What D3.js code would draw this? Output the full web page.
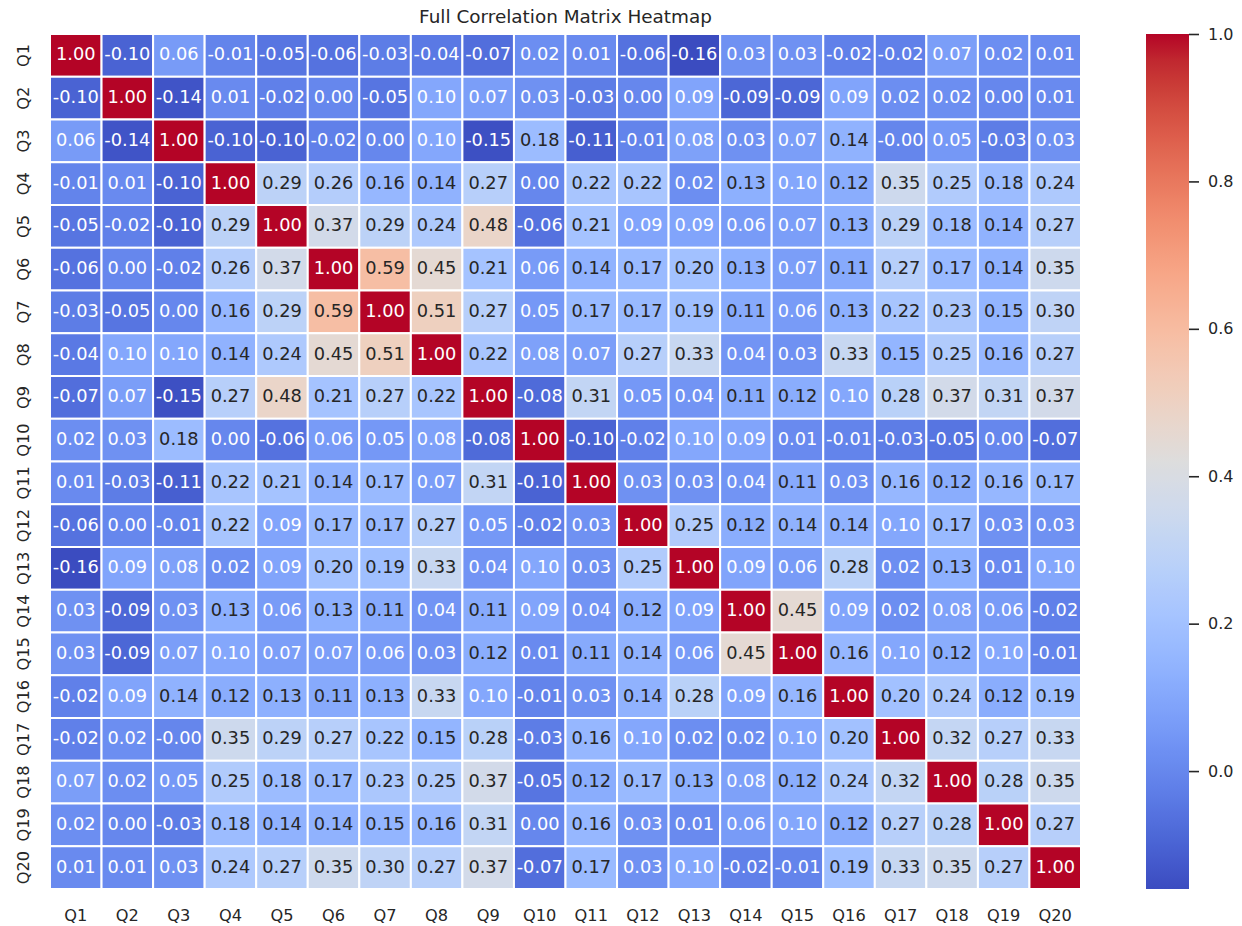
<!DOCTYPE html>
<html>
<head>
<meta charset="utf-8">
<script src="https://cdn.jsdelivr.net/npm/d3@7"></script>
<style>
  body { margin: 0; background: #ffffff; }
  svg text { font-family: "DejaVu Sans", "Liberation Sans", sans-serif; }
</style>
</head>
<body>
<svg id="chart" width="1242" height="926"></svg>
<script>
// Questionnaire items shown on both axes
const questions = ["Q1","Q2","Q3","Q4","Q5","Q6","Q7","Q8","Q9","Q10",
                   "Q11","Q12","Q13","Q14","Q15","Q16","Q17","Q18","Q19","Q20"];

// Pairwise correlation matrix (row i, column j)
const correlations = [
  [ 1.00,-0.10, 0.06,-0.01,-0.05,-0.06,-0.03,-0.04,-0.07, 0.02, 0.01,-0.06,-0.16, 0.03, 0.03,-0.02,-0.02, 0.07, 0.02, 0.01],
  [-0.10, 1.00,-0.14, 0.01,-0.02, 0.00,-0.05, 0.10, 0.07, 0.03,-0.03, 0.00, 0.09,-0.09,-0.09, 0.09, 0.02, 0.02, 0.00, 0.01],
  [ 0.06,-0.14, 1.00,-0.10,-0.10,-0.02, 0.00, 0.10,-0.15, 0.18,-0.11,-0.01, 0.08, 0.03, 0.07, 0.14,-0.004,0.05,-0.03, 0.03],
  [-0.01, 0.01,-0.10, 1.00, 0.29, 0.26, 0.16, 0.14, 0.27, 0.00, 0.22, 0.22, 0.02, 0.13, 0.10, 0.12, 0.35, 0.25, 0.18, 0.24],
  [-0.05,-0.02,-0.10, 0.29, 1.00, 0.37, 0.29, 0.24, 0.48,-0.06, 0.21, 0.09, 0.09, 0.06, 0.07, 0.13, 0.29, 0.18, 0.14, 0.27],
  [-0.06, 0.00,-0.02, 0.26, 0.37, 1.00, 0.59, 0.45, 0.21, 0.06, 0.14, 0.17, 0.20, 0.13, 0.07, 0.11, 0.27, 0.17, 0.14, 0.35],
  [-0.03,-0.05, 0.00, 0.16, 0.29, 0.59, 1.00, 0.51, 0.27, 0.05, 0.17, 0.17, 0.19, 0.11, 0.06, 0.13, 0.22, 0.23, 0.15, 0.30],
  [-0.04, 0.10, 0.10, 0.14, 0.24, 0.45, 0.51, 1.00, 0.22, 0.08, 0.07, 0.27, 0.33, 0.04, 0.03, 0.33, 0.15, 0.25, 0.16, 0.27],
  [-0.07, 0.07,-0.15, 0.27, 0.48, 0.21, 0.27, 0.22, 1.00,-0.08, 0.31, 0.05, 0.04, 0.11, 0.12, 0.10, 0.28, 0.37, 0.31, 0.37],
  [ 0.02, 0.03, 0.18, 0.00,-0.06, 0.06, 0.05, 0.08,-0.08, 1.00,-0.10,-0.02, 0.10, 0.09, 0.01,-0.01,-0.03,-0.05, 0.00,-0.07],
  [ 0.01,-0.03,-0.11, 0.22, 0.21, 0.14, 0.17, 0.07, 0.31,-0.10, 1.00, 0.03, 0.03, 0.04, 0.11, 0.03, 0.16, 0.12, 0.16, 0.17],
  [-0.06, 0.00,-0.01, 0.22, 0.09, 0.17, 0.17, 0.27, 0.05,-0.02, 0.03, 1.00, 0.25, 0.12, 0.14, 0.14, 0.10, 0.17, 0.03, 0.03],
  [-0.16, 0.09, 0.08, 0.02, 0.09, 0.20, 0.19, 0.33, 0.04, 0.10, 0.03, 0.25, 1.00, 0.09, 0.06, 0.28, 0.02, 0.13, 0.01, 0.10],
  [ 0.03,-0.09, 0.03, 0.13, 0.06, 0.13, 0.11, 0.04, 0.11, 0.09, 0.04, 0.12, 0.09, 1.00, 0.45, 0.09, 0.02, 0.08, 0.06,-0.02],
  [ 0.03,-0.09, 0.07, 0.10, 0.07, 0.07, 0.06, 0.03, 0.12, 0.01, 0.11, 0.14, 0.06, 0.45, 1.00, 0.16, 0.10, 0.12, 0.10,-0.01],
  [-0.02, 0.09, 0.14, 0.12, 0.13, 0.11, 0.13, 0.33, 0.10,-0.01, 0.03, 0.14, 0.28, 0.09, 0.16, 1.00, 0.20, 0.24, 0.12, 0.19],
  [-0.02, 0.02,-0.004,0.35, 0.29, 0.27, 0.22, 0.15, 0.28,-0.03, 0.16, 0.10, 0.02, 0.02, 0.10, 0.20, 1.00, 0.32, 0.27, 0.33],
  [ 0.07, 0.02, 0.05, 0.25, 0.18, 0.17, 0.23, 0.25, 0.37,-0.05, 0.12, 0.17, 0.13, 0.08, 0.12, 0.24, 0.32, 1.00, 0.28, 0.35],
  [ 0.02, 0.00,-0.03, 0.18, 0.14, 0.14, 0.15, 0.16, 0.31, 0.00, 0.16, 0.03, 0.01, 0.06, 0.10, 0.12, 0.27, 0.28, 1.00, 0.27],
  [ 0.01, 0.01, 0.03, 0.24, 0.27, 0.35, 0.30, 0.27, 0.37,-0.07, 0.17, 0.03, 0.10,-0.02,-0.01, 0.19, 0.33, 0.35, 0.27, 1.00]
];

// Colorbar tick values
const colorbarTicks = [0.0, 0.2, 0.4, 0.6, 0.8, 1.0];

// Diverging cool-warm palette, sampled at 33 evenly spaced points
const coolwarm = [
  [59,76,192],[68,90,204],[77,104,215],[87,117,225],[98,130,234],[108,142,241],
  [119,154,247],[130,165,251],[141,176,254],[152,185,255],[163,194,255],[174,201,253],
  [184,208,249],[194,213,244],[204,217,238],[213,219,230],[221,221,221],[229,216,209],
  [236,211,197],[241,204,185],[245,196,173],[247,187,160],[247,177,148],[247,166,135],
  [244,154,123],[241,141,111],[236,127,99],[229,112,88],[222,96,77],[213,80,66],
  [203,62,56],[192,40,47],[180,4,38]
];

(function draw() {
  const svg = d3.select("#chart");
  const ink = "#262626";

  const plotL = 50, plotR = 1081, plotT = 34, plotB = 889;
  const cbL = 1146, cbR = 1189;

  const cells = [];
  correlations.forEach((row, i) => row.forEach((v, j) => cells.push({ r: questions[i], c: questions[j], v })));

  const vmin = d3.min(cells, d => d.v);
  const vmax = d3.max(cells, d => d.v);

  const x = d3.scaleBand().domain(questions).range([plotL, plotR]);
  const y = d3.scaleBand().domain(questions).range([plotT, plotB]);

  const color = d3.scaleLinear()
    .domain(coolwarm.map((_, k) => vmin + (vmax - vmin) * k / (coolwarm.length - 1)))
    .range(coolwarm.map(c => d3.rgb(c[0], c[1], c[2]).formatHex()))
    .interpolate(d3.interpolateRgb)
    .clamp(true);

  // Luminance rule for choosing dark or light annotation text
  function luminance(hex) {
    const c = d3.rgb(hex);
    const lin = [c.r, c.g, c.b].map(u => {
      u /= 255;
      return u <= 0.03928 ? u / 12.92 : Math.pow((u + 0.055) / 1.055, 2.4);
    });
    return 0.2126 * lin[0] + 0.7152 * lin[1] + 0.0722 * lin[2];
  }

  // Title
  svg.append("text")
    .attr("x", (plotL + plotR) / 2)
    .attr("y", 22.5)
    .attr("text-anchor", "middle")
    .attr("font-size", "18.4px")
    .attr("fill", ink)
    .text("Full Correlation Matrix Heatmap");

  // Heatmap cells
  const g = svg.append("g");
  g.selectAll("rect.cell")
    .data(cells)
    .join("rect")
    .attr("class", "cell")
    .attr("x", d => x(d.c))
    .attr("y", d => y(d.r))
    .attr("width", x.bandwidth())
    .attr("height", y.bandwidth())
    .attr("fill", d => color(d.v))
    .attr("stroke", "#ffffff")
    .attr("stroke-width", 2);

  // Annotations
  g.selectAll("text.annot")
    .data(cells)
    .join("text")
    .attr("class", "annot")
    .attr("x", d => x(d.c) + x.bandwidth() / 2)
    .attr("y", d => y(d.r) + y.bandwidth() / 2)
    .attr("dy", "0.28em")
    .attr("text-anchor", "middle")
    .attr("font-size", "17.8px")
    .attr("fill", d => luminance(color(d.v)) > 0.408 ? ink : "#ffffff")
    .text(d => d.v.toFixed(2));

  // X axis
  const xAxis = svg.append("g")
    .attr("transform", `translate(0,${plotB})`)
    .call(d3.axisBottom(x).tickSize(0));
  xAxis.select(".domain").remove();
  xAxis.selectAll("text")
    .attr("y", 31.5)
    .attr("dy", 0)
    .attr("font-size", "16.2px")
    .attr("font-family", "DejaVu Sans")
    .attr("fill", ink);

  // Y axis with vertical labels
  const yAxis = svg.append("g")
    .attr("transform", `translate(${plotL},0)`)
    .call(d3.axisLeft(y).tickSize(0));
  yAxis.select(".domain").remove();
  yAxis.selectAll("text")
    .attr("x", 0)
    .attr("dy", 0)
    .attr("text-anchor", "middle")
    .attr("transform", "translate(-21,0) rotate(-90)")
    .attr("font-size", "16.2px")
    .attr("font-family", "DejaVu Sans")
    .attr("fill", ink);

  // Colorbar
  const cScale = d3.scaleLinear().domain([vmin, vmax]).range([plotB, plotT]);
  const grad = svg.append("defs").append("linearGradient")
    .attr("id", "cbar")
    .attr("x1", 0).attr("y1", 1).attr("x2", 0).attr("y2", 0);
  d3.range(0, 101).forEach(k => {
    const t = k / 100;
    grad.append("stop")
      .attr("offset", t)
      .attr("stop-color", color(vmin + (vmax - vmin) * t));
  });
  svg.append("rect")
    .attr("x", cbL)
    .attr("y", plotT)
    .attr("width", cbR - cbL)
    .attr("height", plotB - plotT)
    .attr("fill", "url(#cbar)");

  const cAxis = svg.append("g")
    .attr("transform", `translate(${cbR},0)`)
    .call(d3.axisRight(cScale).tickValues(colorbarTicks).tickFormat(d3.format(".1f")).tickSize(10).tickPadding(9));
  cAxis.select(".domain").remove();
  cAxis.selectAll("line").attr("stroke", ink).attr("stroke-width", 1.6);
  cAxis.selectAll("text")
    .attr("font-size", "16px")
    .attr("font-family", "DejaVu Sans")
    .attr("fill", ink);
})();
</script>
</body>
</html>
